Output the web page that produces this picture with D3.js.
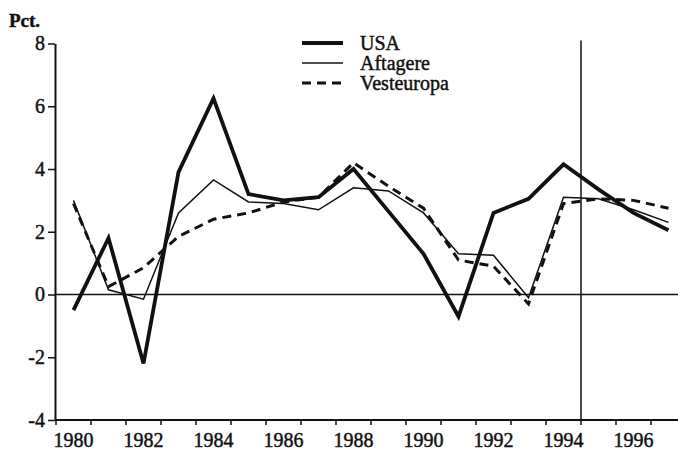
<!DOCTYPE html>
<html>
<head>
<meta charset="utf-8">
<script src="https://cdn.jsdelivr.net/npm/d3@7"></script>
<style>
  body { margin: 0; background: #fff; }
  svg text { font-family: "Liberation Serif", "DejaVu Serif", serif; fill: #111; stroke: #111; stroke-width: 0.45px; }
</style>
</head>
<body>
<div id="chart"></div>
<script>
// years (points drawn at mid-year, ticks at year boundaries)
const years = [1980, 1981, 1982, 1983, 1984, 1985, 1986, 1987, 1988, 1989,
               1990, 1991, 1992, 1993, 1994, 1995, 1996, 1997]
const usa =        [-0.5, 1.8, -2.2, 3.9, 6.25, 3.2, 3.0, 3.1, 4.0, 2.65,
                    1.3, -0.7, 2.6, 3.05, 4.15, 3.35, 2.6, 2.05]
const aftagere =   [3.0, 0.15, -0.15, 2.6, 3.65, 2.95, 2.9, 2.7, 3.4, 3.3,
                    2.6, 1.3, 1.25, -0.1, 3.1, 3.05, 2.7, 2.3]
const vesteuropa = [2.9, 0.25, 0.85, 1.85, 2.4, 2.6, 2.95, 3.1, 4.2, 3.45,
                    2.75, 1.1, 0.9, -0.3, 2.9, 3.05, 3.0, 2.75]
const yTicks = [-4, -2, 0, 2, 4, 6, 8]
const xLabels = [1980, 1982, 1984, 1986, 1988, 1990, 1992, 1994, 1996]
const seriesNames = ["USA", "Aftagere", "Vesteuropa"]
const splitYear = 1995

const width = 678, height = 451

const svg = d3.select("#chart").append("svg")
    .attr("width", width)
    .attr("height", height)

const x = d3.scaleLinear().domain([1980, 1998]).range([56, 686])
const y = d3.scaleLinear().domain([-4, 8]).range([420, 43.5])

// y axis (plain hyphen for minus, as in the original)
const yAxis = d3.axisLeft(y).tickValues(yTicks).tickSize(7).tickPadding(3).tickSizeOuter(0)
    .tickFormat(d => String(d))
const gy = svg.append("g")
    .attr("transform", "translate(55,0)")
    .call(yAxis)
gy.select(".domain").attr("stroke", "#111").attr("stroke-width", 2)
gy.selectAll(".tick line").attr("stroke", "#111").attr("stroke-width", 1.5)
gy.selectAll(".tick text").style("font-size", "20px")

// x axis: ticks every year boundary, labels every other year centered in the year
const gx = svg.append("g")
    .attr("transform", "translate(0,420)")
gx.append("line")
    .attr("x1", 55).attr("x2", width)
    .attr("y1", 0).attr("y2", 0)
    .attr("stroke", "#111").attr("stroke-width", 2)
gx.selectAll(".xtick")
    .data(d3.range(1980, 1998))
    .enter().append("line")
    .attr("class", "xtick")
    .attr("x1", d => x(d)).attr("x2", d => x(d))
    .attr("y1", 0).attr("y2", 5)
    .attr("stroke", "#111").attr("stroke-width", 1.5)
gx.selectAll(".xlabel")
    .data(xLabels)
    .enter().append("text")
    .attr("class", "xlabel")
    .attr("x", d => x(d + 0.5))
    .attr("y", 27)
    .attr("text-anchor", "middle")
    .style("font-size", "20px")
    .text(d => d)

svg.append("text")
    .attr("x", 9).attr("y", 27)
    .style("font-size", "19px")
    .style("font-weight", "bold")
    .text("Pct.")

// zero line and forecast split line
svg.append("line")
    .attr("x1", 55).attr("x2", width)
    .attr("y1", y(0)).attr("y2", y(0))
    .attr("stroke", "#111").attr("stroke-width", 1.5)
svg.append("line")
    .attr("x1", x(splitYear)).attr("x2", x(splitYear))
    .attr("y1", y(8) - 3).attr("y2", y(-4))
    .attr("stroke", "#111").attr("stroke-width", 1.5)

const styles = [
    { data: usa, width: 3.8, dash: null },
    { data: aftagere, width: 1.5, dash: null },
    { data: vesteuropa, width: 3, dash: "9,6" }
]

const line = d3.line()
    .x((d, i) => x(years[i] + 0.5))
    .y(d => y(d))

styles.forEach(s => {
    svg.append("path")
        .datum(s.data)
        .attr("fill", "none")
        .attr("stroke", "#111")
        .attr("stroke-width", s.width)
        .attr("stroke-linejoin", "miter")
        .attr("stroke-dasharray", s.dash)
        .attr("d", line)
})

// legend
const legend = svg.append("g").attr("transform", "translate(302,43)")
seriesNames.forEach((name, i) => {
    legend.append("line")
        .attr("x1", 0).attr("x2", 41)
        .attr("y1", i * 20).attr("y2", i * 20)
        .attr("stroke", "#111")
        .attr("stroke-width", styles[i].width)
        .attr("stroke-dasharray", styles[i].dash)
    legend.append("text")
        .attr("x", 58).attr("y", i * 20 + 7)
        .style("font-size", "20px")
        .text(name)
})
</script>
</body>
</html>
